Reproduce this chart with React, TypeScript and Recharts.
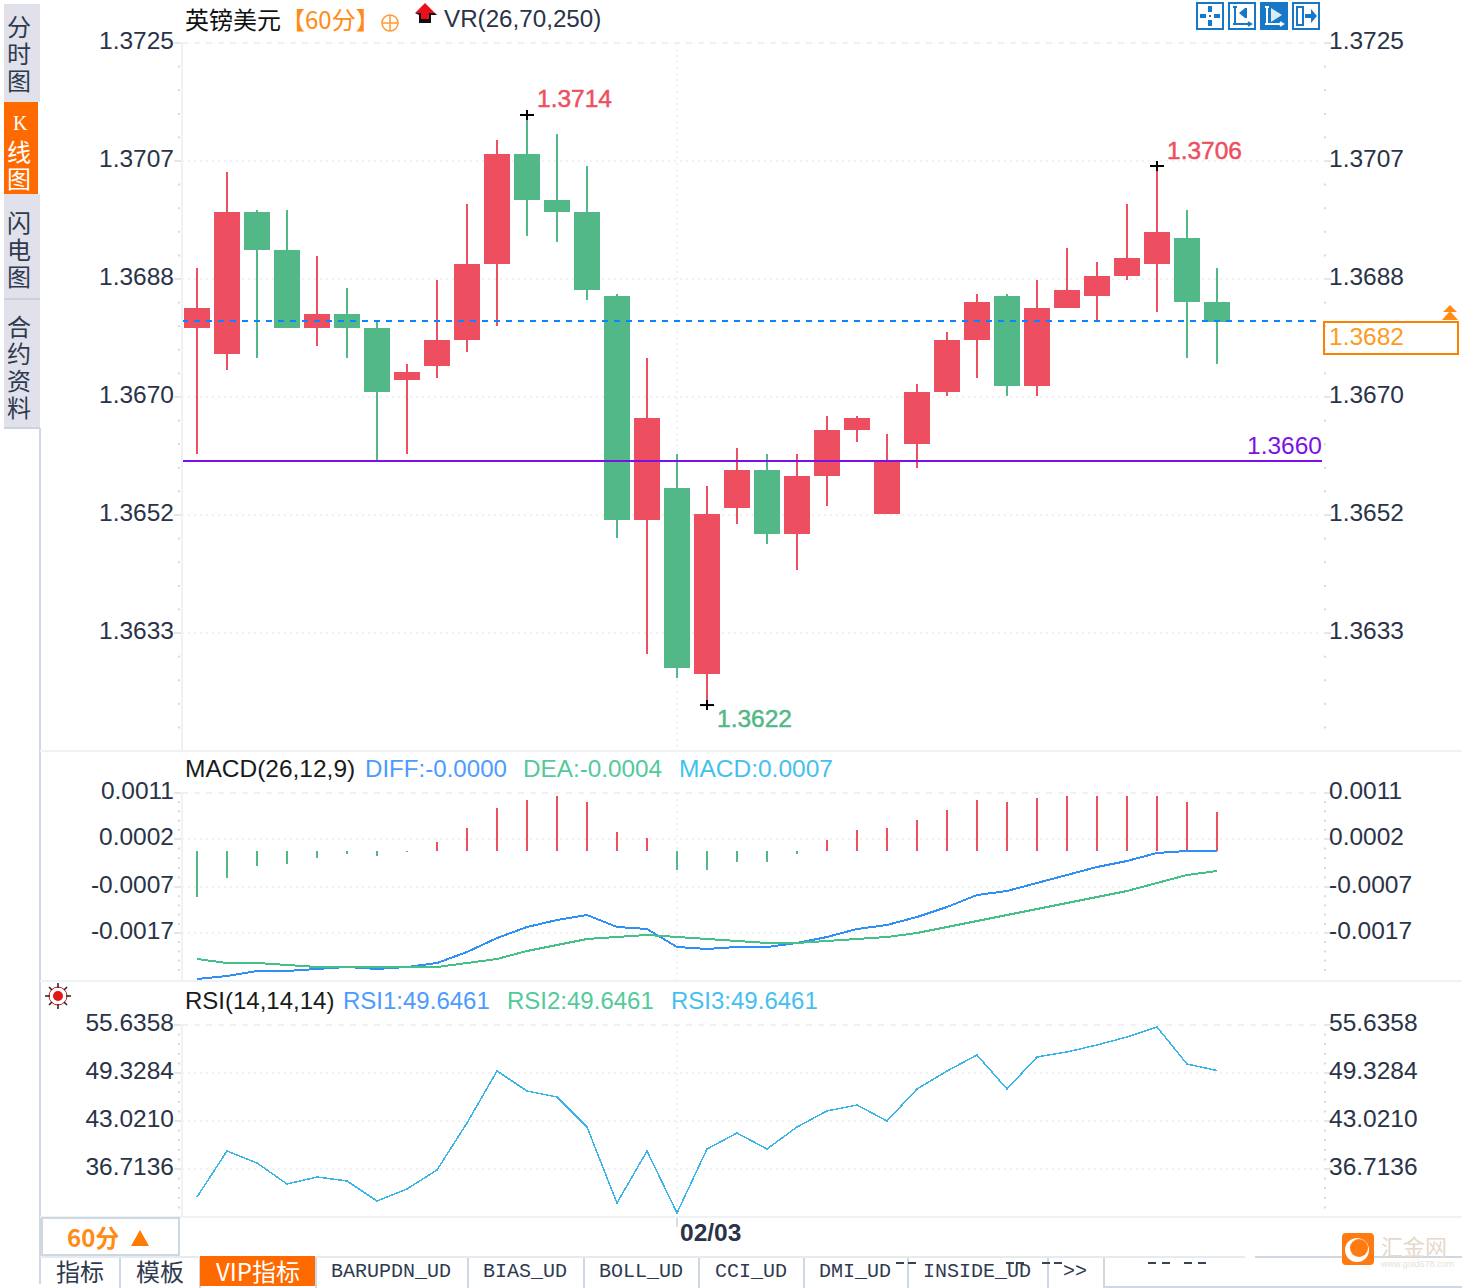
import { ComposedChart, Bar, Line, Cell, XAxis, YAxis, CartesianGrid, ReferenceLine, ReferenceDot } from 'recharts'

const slots = [
    '08:00', '09:00', '10:00', '11:00', '12:00', '13:00', '14:00', '15:00', '16:00', '17:00',
    '18:00', '19:00', '20:00', '21:00', '22:00', '23:00', '02/03', '01:00', '02:00', '03:00',
    '04:00', '05:00', '06:00', '07:00', '08:00b', '09:00b', '10:00b', '11:00b', '12:00b', '13:00b',
    '14:00b', '15:00b', '16:00b', '17:00b', '18:00b', '19:00b', '20:00b', '21:00b',
]

const opens = [
    1.368087, 1.367681, 1.369899, 1.369306, 1.368087, 1.368306, 1.368087, 1.367274, 1.367493, 1.367899,
    1.369087, 1.370806, 1.370087, 1.369899, 1.368587, 1.365087, 1.365587, 1.362681, 1.365274, 1.365868,
    1.364868, 1.365774, 1.366493, 1.365181, 1.366274, 1.367087, 1.367899, 1.368587, 1.367181, 1.368399,
    1.368587, 1.368899, 1.369087, 1.369493, 1.368493,
]
const closes = [
    1.368399, 1.369899, 1.369306, 1.368087, 1.368306, 1.368087, 1.367087, 1.367399, 1.367899, 1.369087,
    1.370806, 1.370087, 1.369899, 1.368681, 1.365087, 1.366681, 1.362774, 1.365181, 1.365868, 1.364868,
    1.365774, 1.366493, 1.366681, 1.366009, 1.367087, 1.367899, 1.368493, 1.367181, 1.368399, 1.368681,
    1.368899, 1.369181, 1.369587, 1.368493, 1.368181,
]
const highs = [
    1.369024, 1.370524, 1.369931, 1.369931, 1.369212, 1.368712, 1.368181, 1.367524, 1.368837, 1.370024,
    1.371024, 1.371415, 1.371118, 1.370618, 1.368618, 1.367618, 1.366118, 1.365618, 1.366212, 1.366118,
    1.366118, 1.366712, 1.366712, 1.366431, 1.367212, 1.368024, 1.368618, 1.368618, 1.368837, 1.369337,
    1.369118, 1.370024, 1.370618, 1.369931, 1.369024,
]
const lows = [
    1.366118, 1.367431, 1.367618, 1.368087, 1.367806, 1.367618, 1.366024, 1.366118, 1.367306, 1.367712,
    1.368118, 1.369524, 1.369431, 1.368524, 1.364806, 1.362993, 1.362618, 1.362196, 1.365024, 1.364712,
    1.364306, 1.365306, 1.366306, 1.365181, 1.365899, 1.367024, 1.367306, 1.367024, 1.367024, 1.368399,
    1.368196, 1.368837, 1.368337, 1.367618, 1.367524,
]

const macdHist = [
    -0.00092, -0.00054, -0.0003, -0.00026, -0.00014, -0.00006, -0.0001, -0.00002, 0.00018, 0.00046,
    0.00086, 0.00102, 0.0011, 0.00098, 0.00038, 0.00026, -0.00038, -0.00038, -0.00022, -0.00022,
    -0.00006, 0.00022, 0.00042, 0.00046, 0.00062, 0.00082, 0.00102, 0.00098, 0.00106, 0.0011,
    0.0011, 0.0011, 0.0011, 0.00098, 0.00078,
]
const diffValues = [
    -0.00256, -0.0025, -0.0024, -0.0024, -0.00236, -0.00232, -0.00236, -0.00232, -0.00224, -0.00202,
    -0.00174, -0.00152, -0.00138, -0.00128, -0.00152, -0.00156, -0.00192, -0.00196, -0.00192, -0.00192,
    -0.00184, -0.00172, -0.00156, -0.00148, -0.00132, -0.00112, -0.00088, -0.0008, -0.00064, -0.00048,
    -0.00032, -0.0002, -0.00004, 0, 0,
]
const deaValues = [
    -0.00216, -0.00224, -0.00224, -0.00228, -0.00232, -0.00232, -0.00232, -0.00232, -0.00232, -0.00224,
    -0.00216, -0.002, -0.00188, -0.00176, -0.00172, -0.00168, -0.00172, -0.00176, -0.0018, -0.00184,
    -0.00184, -0.0018, -0.00176, -0.00172, -0.00164, -0.00152, -0.0014, -0.00128, -0.00116, -0.00104,
    -0.00092, -0.0008, -0.00064, -0.00048, -0.0004,
]
const rsiValues = [
    33.03, 39.08, 37.5, 34.74, 35.66, 35.14, 32.51, 34.09, 36.58, 42.76,
    49.59, 46.96, 46.17, 42.23, 32.24, 39.08, 30.93, 39.34, 41.44, 39.34,
    42.23, 44.34, 45.12, 43.02, 47.23, 49.59, 51.69, 47.23, 51.43, 52.09,
    53.01, 54.06, 55.37, 50.51, 49.65,
]

const priceTicks = [1.37254, 1.370696, 1.368853, 1.36701, 1.365165, 1.363321]
const priceLabels = ['1.3725', '1.3707', '1.3688', '1.3670', '1.3652', '1.3633']
const priceDomain = [1.361478, 1.37254]
const macdTicks = [0.00116, 0.00024, -0.00072, -0.00164]
const macdLabels = ['0.0011', '0.0002', '-0.0007', '-0.0017']
const macdDomain = [-0.00258, 0.00116]
const rsiTicks = [55.6358, 49.3284, 43.021, 36.7136]
const rsiLabels = ['55.6358', '49.3284', '43.0210', '36.7136']
const rsiDomain = [30.405, 55.6358]

const lastPrice = 1.368196
const linePrice = 1.366009
const highMark = { slot: '19:00', value: 1.371415, label: '1.3714' }
const lateHighMark = { slot: '16:00b', value: 1.370618, label: '1.3706' }
const lowMark = { slot: '01:00', value: 1.362196, label: '1.3622' }

const rows = slots.map((slot, i) => ({
    slot,
    open: opens[i],
    close: closes[i],
    high: highs[i],
    low: lows[i],
    range: i < opens.length ? [lows[i], highs[i]] : undefined,
    hist: macdHist[i],
    diff: diffValues[i],
    dea: deaValues[i],
    rsi: rsiValues[i],
}))

const UP = '#EE4F60'
const DOWN = '#53B888'
const ORANGE = '#FF6A00'
const TEXT = '#2A3347'
const RULE = '#EEF2F5'
const GRID = '#EFF1F2'
const FONT = '"Liberation Sans", Arial, sans-serif'
const CJK = '"Noto Sans CJK SC", sans-serif'
const LATIN = 24.5

// every major tick plus 4 small marks between, running down to the bottom of the panel
function withMinor(majors: number[], bottom: number) {
    const out: number[] = []
    majors.forEach((m, i) => {
        const step = i < majors.length - 1 ? (m - majors[i + 1]) / 5 : (majors[0] - majors[1]) / 5
        for (let k = 0; k < 5; k++) {
            const v = m - step * k
            if (v > bottom + step * 0.5) out.push(v)
        }
    })
    return out
}

// the dotted line at the date tick, kept in the grid so the candles sit on top of it
const dateLine = ({ offset }: any) => {
    const left = offset?.left ?? 182
    const span = offset?.width ?? 1140
    return [left + (span * (slots.indexOf('02/03') + 0.5)) / slots.length]
}

const Candle = (props: any) => {
    const { x, y, width, height, payload } = props
    if (!payload || payload.open === undefined) return null
    const top = Math.min(y, y + height)
    const span = Math.abs(height)
    const unit = span / (payload.high - payload.low)
    const toY = (p: number) => Math.round(top + (payload.high - p) * unit)
    const bodyTop = toY(Math.max(payload.open, payload.close))
    const bodyBottom = toY(Math.min(payload.open, payload.close))
    const fill = payload.close >= payload.open ? UP : DOWN
    return (
        <g>
            <rect x={x + width / 2 - 1} y={Math.round(top)} width={2} height={Math.round(span)} fill={fill} />
            <rect x={x} y={bodyTop} width={width} height={bodyBottom - bodyTop} fill={fill} />
        </g>
    )
}

const makeTick = (side: 'left' | 'right', labels: string[], lift: number) => (props: any) => {
    const { x, y, index } = props
    const major = index % 5 === 0
    const sx = side === 'left' ? x - 1 : x + 2
    return (
        <g>
            {major ? (
                <rect x={side === 'left' ? sx - 7 : sx} y={y - 0.5} width={7} height={1} fill="#C8D2DA" />
            ) : (
                <rect x={side === 'left' ? sx - 3 : sx} y={y - 1} width={2} height={2} fill="#D3DCE3" />
            )}
            {major && (
                <text
                    x={side === 'left' ? x - 8 : x + 7}
                    y={y + lift}
                    textAnchor={side === 'left' ? 'end' : 'start'}
                    fontFamily={FONT}
                    fontSize={LATIN}
                    fill={TEXT}
                >
                    {labels[index / 5]}
                </text>
            )}
        </g>
    )
}

const peakMark = (label: string, fill: string, dy: number) => (props: any) => {
    const { cx, cy } = props
    return (
        <g>
            <rect x={cx - 7} y={cy - 1} width={14} height={2} fill="#000" />
            <rect x={cx - 1} y={cy - 5} width={2} height={10} fill="#000" />
            <text x={cx + 10} y={cy + dy} fontFamily={FONT} fontSize={LATIN} fill={fill} stroke={fill} strokeWidth={0.5}>
                {label}
            </text>
        </g>
    )
}

const purpleLabel = (props: any) => {
    const { viewBox } = props
    return (
        <text x={viewBox.x + viewBox.width} y={viewBox.y - 7} textAnchor="end" fontFamily={FONT} fontSize={LATIN} fill="#7D10E6">
            1.3660
        </text>
    )
}

const DateTick = (props: any) => {
    const { x, y } = props
    return (
        <g>
            <rect x={x - 1} y={y} width={2} height={10} fill="#D5DDE3" />
            <text x={x + 3} y={y + 24} fontFamily={FONT} fontSize={LATIN} fontWeight="bold" fill={TEXT}>
                02/03
            </text>
        </g>
    )
}

function Txt({ x, cy, color = '#222', size = 24, font = FONT, children, weight }: any) {
    const h = 2 * Math.round(size / 2) + 2
    return (
        <div
            style={{
                position: 'absolute',
                left: x,
                top: cy - h / 2,
                height: h,
                lineHeight: `${h}px`,
                fontFamily: font,
                fontSize: size,
                fontWeight: weight,
                color,
                whiteSpace: 'nowrap',
            }}
        >
            {children}
        </div>
    )
}

// one text block, one character per line at the tab's 27px pitch
function TabText({ y, color, children }: any) {
    return (
        <div
            style={{
                position: 'absolute',
                left: 7,
                top: y - 15,
                width: 24,
                lineHeight: '27px',
                fontFamily: CJK,
                fontSize: 24,
                color,
            }}
        >
            {children}
        </div>
    )
}

function Box({ x, y, w, h, c, style }: any) {
    return <div style={{ position: 'absolute', left: x, top: y, width: w, height: h, background: c, ...style }} />
}

const sideTabs = [
    { text: '分时图', top: 4, bottom: 102, first: 27 },
    { text: '闪电图', top: 194, bottom: 299, first: 223 },
    { text: '合约资料', top: 300, bottom: 427, first: 327 },
]

const bottomTabs = [
    { text: '指标', x: 56, cjk: true },
    { text: '模板', x: 136, cjk: true },
    { text: 'BARUPDN_UD', x: 331 },
    { text: 'BIAS_UD', x: 483 },
    { text: 'BOLL_UD', x: 599 },
    { text: 'CCI_UD', x: 715 },
    { text: 'DMI_UD', x: 819 },
    { text: 'INSIDE_UD', x: 923 },
    { text: '>>', x: 1063 },
]
const tabEdges = [119, 199, 315, 467, 583, 698, 803, 907, 1047, 1103]
const clippedBits = [896, 908, 1006, 1016, 1042, 1054, 1148, 1162, 1184, 1198]

function IconButton({ x, active, children }: any) {
    return (
        <svg
            width={28}
            height={28}
            viewBox="0 0 28 28"
            style={{ position: 'absolute', left: x, top: 2, background: active ? '#1878C8' : '#fff' }}
        >
            <rect x={1} y={1} width={26} height={26} fill="none" stroke="#1878C8" strokeWidth={2} />
            {children}
        </svg>
    )
}

export default function App() {
    const chartProps = { data: rows, barCategoryGap: 0, barGap: 0 }
    const xAxis = <XAxis dataKey="slot" type="category" scale="band" hide allowDuplicatedCategory={false} />
    const priceAll = withMinor(priceTicks, priceDomain[0])
    const macdAll = withMinor(macdTicks, macdDomain[0])
    const rsiAll = withMinor(rsiTicks, rsiDomain[0])

    return (
        <div
            style={{
                position: 'absolute',
                left: 0,
                top: 0,
                width: 1462,
                height: 1288,
                background: '#fff',
                overflow: 'hidden',
                fontFamily: FONT,
            }}
        >
            {/* price panel */}
            <div style={{ position: 'absolute', left: 0, top: 0 }}>
                <ComposedChart width={1462} height={752} margin={{ top: 43, right: 0, bottom: 1, left: 0 }} {...chartProps}>
                    {xAxis}
                    <YAxis
                        yAxisId="left"
                        width={182}
                        domain={priceDomain}
                        ticks={priceAll}
                        interval={0}
                        tickSize={0}
                        tickMargin={0}
                        tickLine={false}
                        axisLine={{ stroke: RULE, strokeWidth: 2 }}
                        tick={makeTick('left', priceLabels, 6)}
                        allowDataOverflow
                    />
                    <YAxis
                        yAxisId="right"
                        orientation="right"
                        width={140}
                        domain={priceDomain}
                        ticks={priceAll}
                        interval={0}
                        tickSize={0}
                        tickMargin={0}
                        tickLine={false}
                        axisLine={false}
                        tick={makeTick('right', priceLabels, 6)}
                        allowDataOverflow
                    />
                    <CartesianGrid yAxisId="left" vertical={false} horizontalValues={priceTicks.slice(1)} stroke={GRID} strokeWidth={2} strokeDasharray="2 4" />
                    <CartesianGrid yAxisId="left" vertical={false} horizontalValues={priceTicks.slice(0, 1)} stroke={GRID} strokeWidth={2} strokeDasharray="6 6" />
                    <CartesianGrid yAxisId="left" horizontal={false} verticalCoordinatesGenerator={dateLine} stroke={GRID} strokeWidth={2} strokeDasharray="2 4" />
                    <Bar yAxisId="left" dataKey="range" barSize={26} shape={Candle} isAnimationActive={false} />
                    <ReferenceLine yAxisId="left" y={lastPrice} stroke="#0A84FF" strokeWidth={2} strokeDasharray="6 6" />
                    <ReferenceLine yAxisId="left" y={linePrice} stroke="#7D10E6" strokeWidth={2} label={purpleLabel} />
                    <ReferenceDot yAxisId="left" x={highMark.slot} y={highMark.value} r={0} shape={peakMark(highMark.label, UP, -8)} />
                    <ReferenceDot yAxisId="left" x={lateHighMark.slot} y={lateHighMark.value} r={0} shape={peakMark(lateHighMark.label, UP, -7)} />
                    <ReferenceDot yAxisId="left" x={lowMark.slot} y={lowMark.value} r={0} shape={peakMark(lowMark.label, DOWN, 22)} />
                </ComposedChart>
            </div>

            {/* MACD panel */}
            <div style={{ position: 'absolute', left: 0, top: 752 }}>
                <ComposedChart width={1462} height={228} margin={{ top: 41, right: 0, bottom: 0, left: 0 }} {...chartProps}>
                    {xAxis}
                    <YAxis
                        yAxisId="left"
                        width={182}
                        domain={macdDomain}
                        ticks={macdAll}
                        interval={0}
                        tickSize={0}
                        tickMargin={0}
                        tickLine={false}
                        axisLine={{ stroke: RULE, strokeWidth: 2 }}
                        tick={makeTick('left', macdLabels, 6)}
                        allowDataOverflow
                    />
                    <YAxis
                        yAxisId="right"
                        orientation="right"
                        width={140}
                        domain={macdDomain}
                        ticks={macdAll}
                        interval={0}
                        tickSize={0}
                        tickMargin={0}
                        tickLine={false}
                        axisLine={false}
                        tick={makeTick('right', macdLabels, 6)}
                        allowDataOverflow
                    />
                    <CartesianGrid yAxisId="left" vertical={false} horizontalValues={macdTicks.slice(1)} stroke={GRID} strokeWidth={2} strokeDasharray="2 4" />
                    <CartesianGrid yAxisId="left" vertical={false} horizontalValues={macdTicks.slice(0, 1)} stroke={GRID} strokeWidth={2} strokeDasharray="6 6" />
                    <CartesianGrid yAxisId="left" horizontal={false} verticalCoordinatesGenerator={dateLine} stroke={GRID} strokeWidth={2} strokeDasharray="2 4" />
                    <Bar yAxisId="left" dataKey="hist" barSize={2} isAnimationActive={false}>
                        {rows.map((r) => (
                            <Cell key={r.slot} fill={(r.hist ?? 0) >= 0 ? UP : DOWN} />
                        ))}
                    </Bar>
                    <Line yAxisId="left" dataKey="diff" stroke="#2F8FF5" strokeWidth={2} dot={false} shapeRendering="crispEdges" isAnimationActive={false} />
                    <Line yAxisId="left" dataKey="dea" stroke="#45C08A" strokeWidth={2} dot={false} shapeRendering="crispEdges" isAnimationActive={false} />
                </ComposedChart>
            </div>

            {/* RSI panel, carries the date axis */}
            <div style={{ position: 'absolute', left: 0, top: 982 }}>
                <ComposedChart width={1462} height={274} margin={{ top: 43, right: 0, bottom: 0, left: 0 }} {...chartProps}>
                    <XAxis
                        dataKey="slot"
                        type="category"
                        scale="band"
                        height={39}
                        ticks={['02/03']}
                        interval={0}
                        tickSize={0}
                        tickMargin={0}
                        tickLine={false}
                        axisLine={false}
                        tick={DateTick}
                        allowDuplicatedCategory={false}
                    />
                    <YAxis
                        yAxisId="left"
                        width={182}
                        domain={rsiDomain}
                        ticks={rsiAll}
                        interval={0}
                        tickSize={0}
                        tickMargin={0}
                        tickLine={false}
                        axisLine={{ stroke: RULE, strokeWidth: 2 }}
                        tick={makeTick('left', rsiLabels, 6)}
                        allowDataOverflow
                    />
                    <YAxis
                        yAxisId="right"
                        orientation="right"
                        width={140}
                        domain={rsiDomain}
                        ticks={rsiAll}
                        interval={0}
                        tickSize={0}
                        tickMargin={0}
                        tickLine={false}
                        axisLine={false}
                        tick={makeTick('right', rsiLabels, 6)}
                        allowDataOverflow
                    />
                    <CartesianGrid yAxisId="left" vertical={false} horizontalValues={rsiTicks.slice(1)} stroke={GRID} strokeWidth={2} strokeDasharray="2 4" />
                    <CartesianGrid yAxisId="left" vertical={false} horizontalValues={rsiTicks.slice(0, 1)} stroke={GRID} strokeWidth={2} strokeDasharray="6 6" />
                    <CartesianGrid yAxisId="left" horizontal={false} verticalCoordinatesGenerator={dateLine} stroke={GRID} strokeWidth={2} strokeDasharray="2 4" />
                    <Line yAxisId="left" dataKey="rsi" stroke="#38B4E8" strokeWidth={1.5} dot={false} shapeRendering="crispEdges" isAnimationActive={false} />
                </ComposedChart>
            </div>

            {/* panel rules */}
            <Box x={39} y={428} w={2} h={856} c="#CFD8E0" />
            <Box x={40} y={750} w={1422} h={2} c={RULE} />
            <Box x={40} y={980} w={1422} h={2} c={RULE} />
            <Box x={40} y={1216} w={1422} h={2} c={RULE} />

            {/* left side tabs */}
            {sideTabs.map((tab) => (
                <div key={tab.first}>
                    <Box x={4} y={tab.top} w={36} h={tab.bottom - tab.top} c="#E0E1EA" />
                    <TabText y={tab.first} color="#2F3A50">{tab.text}</TabText>
                </div>
            ))}
            <Box x={4} y={298} w={36} h={2} c="#CCD0DA" />
            <Box x={4} y={427} w={36} h={2} c="#CBD4DE" />
            <Box x={4} y={102} w={34} h={92} c={ORANGE} />
            <Txt x={13} cy={123} size={20} color="#fff" font='"Liberation Serif", serif'>K</Txt>
            <TabText y={152} color="#fff">线图</TabText>

            {/* header row */}
            <Txt x={185} cy={19} size={24} font={CJK} color="#111">英镑美元</Txt>
            <Txt x={281} cy={19} size={24} font={CJK} color="#FF8A14">【60分】</Txt>
            <svg width={20} height={20} style={{ position: 'absolute', left: 380, top: 13 }}>
                <circle cx={10} cy={10} r={8} fill="none" stroke="#FF9A30" strokeWidth={1.5} />
                <path d="M2 10H18M10 2V18" stroke="#FF9A30" strokeWidth={1.5} />
            </svg>
            <svg width={24} height={26} style={{ position: 'absolute', left: 414, top: 1 }}>
                <path d="M11 2L21 12H15V18H7V12H1Z" fill="#E8101C" />
                <path d="M1 12H7V18H15V12H21L23 14H17V22H5V14Z" fill="#111" />
            </svg>
            <Txt x={444} cy={19} size={24.2} color={TEXT}>VR(26,70,250)</Txt>

            <IconButton x={1196}>
                <path d="M12 4h4v6h-4zM12 18h4v6h-4zM4 12h6v4H4zM18 12h6v4h-6zM13 13h2v2h-2z" fill="#1878C8" />
            </IconButton>
            <IconButton x={1228}>
                <path d="M5 5h4M7 5v17M5 22h18M20 20l3 2-3 2M18 6v10" fill="none" stroke="#1878C8" strokeWidth={2} />
                <path d="M11 11l6-5v10z" fill="#1878C8" />
            </IconButton>
            <IconButton x={1260} active>
                <path d="M5 5h4M7 5v17M5 22h18M20 20l3 2-3 2" fill="none" stroke="#fff" strokeWidth={2} />
                <path d="M11 6l11 7-11 7z" fill="#DCEBFA" />
            </IconButton>
            <IconButton x={1292}>
                <path d="M5 5h6v18H5z" fill="none" stroke="#1878C8" strokeWidth={2} />
                <path d="M13 12h6V7l6 7-6 7v-5h-6z" fill="#1878C8" />
            </IconButton>

            {/* last price flag */}
            <svg width={18} height={16} style={{ position: 'absolute', left: 1442, top: 305 }}>
                <path d="M8 0l7 7H1zM8 6l8 9H0z" fill="#FF8A14" />
            </svg>
            <div
                style={{
                    position: 'absolute',
                    left: 1323,
                    top: 321,
                    width: 132,
                    height: 30,
                    border: '2px solid #FF8000',
                }}
            />
            <Txt x={1329} cy={337} size={LATIN} color="#FF9A1F">1.3682</Txt>

            {/* indicator legends */}
            <Txt x={185} cy={769} size={LATIN} color="#1A1A1A">MACD(26,12,9)</Txt>
            <Txt x={365} cy={769} size={24.1} color="#4D9BFF">DIFF:-0.0000</Txt>
            <Txt x={523} cy={769} size={24.3} color="#54C99A">DEA:-0.0004</Txt>
            <Txt x={679} cy={769} size={LATIN} color="#45BFF0">MACD:0.0007</Txt>
            <Txt x={185} cy={1001} color="#1A1A1A">RSI(14,14,14)</Txt>
            <Txt x={343} cy={1001} color="#4D9BFF">RSI1:49.6461</Txt>
            <Txt x={507} cy={1001} color="#54C99A">RSI2:49.6461</Txt>
            <Txt x={671} cy={1001} color="#45BFF0">RSI3:49.6461</Txt>
            <svg width={30} height={30} style={{ position: 'absolute', left: 43, top: 981 }}>
                <circle cx={15} cy={15} r={5} fill="#E01818" />
                <circle cx={15} cy={15} r={9} fill="none" stroke="#E01818" strokeWidth={1} />
                <path d="M15 2v5M15 23v5M2 15h5M23 15h5M6 6l3 3M21 21l3 3M24 6l-3 3M9 21l-3 3" stroke="#222" strokeWidth={1.5} />
            </svg>

            {/* bottom bar */}
            <Box x={41} y={1218} w={139} h={37} c="#fff" />
            <div
                style={{
                    position: 'absolute',
                    left: 41,
                    top: 1217,
                    width: 135,
                    height: 35,
                    border: '2px solid #CFD8E0',
                }}
            />
            <Txt x={67} cy={1237} size={24} font={CJK} color="#FF8A14" weight="bold">60分</Txt>
            <svg width={18} height={16} style={{ position: 'absolute', left: 131, top: 1230 }}>
                <path d="M9 0L18 16H0Z" fill="#FF7A00" />
            </svg>
            <Box x={40} y={1256} w={1205} h={2} c="#E6EBF0" />
            <Box x={1255} y={1256} w={207} h={2} c="#CFD8E0" />
            {tabEdges.map((x) => (
                <Box key={x} x={x} y={1258} w={2} h={30} c="#CFD8E0" />
            ))}
            <Box x={1103} y={1286} w={359} h={2} c="#CFD8E0" />
            <Box x={200} y={1256} w={115} h={30} c={ORANGE} />
            <Txt x={216} cy={1271} size={24} color="#fff" font={CJK}>VIP指标</Txt>
            {bottomTabs.map((t) => (
                <Txt
                    key={t.text}
                    x={t.x}
                    cy={t.cjk ? 1271 : 1272}
                    color="#2F3A50"
                    size={t.cjk ? 24 : 20}
                    font={t.cjk ? CJK : '"Liberation Mono", monospace'}
                >
                    {t.text}
                </Txt>
            ))}
            {clippedBits.map((x) => (
                <Box key={x} x={x} y={1262} w={8} h={2} c="#3A4256" />
            ))}

            {/* watermark */}
            <svg width={32} height={32} style={{ position: 'absolute', left: 1342, top: 1233 }}>
                <rect width={32} height={32} rx={4} fill="#FF7A10" />
                <circle cx={15} cy={17} r={12} fill="#fff" />
                <circle cx={17} cy={15} r={9} fill="#FF7A10" />
            </svg>
            <Txt x={1381} cy={1245} size={22} font={CJK} color="#E6D9CC">汇金网</Txt>
            <Txt x={1381} cy={1264} size={9} color="#EADFD6">www.gold678.com</Txt>
        </div>
    )
}
